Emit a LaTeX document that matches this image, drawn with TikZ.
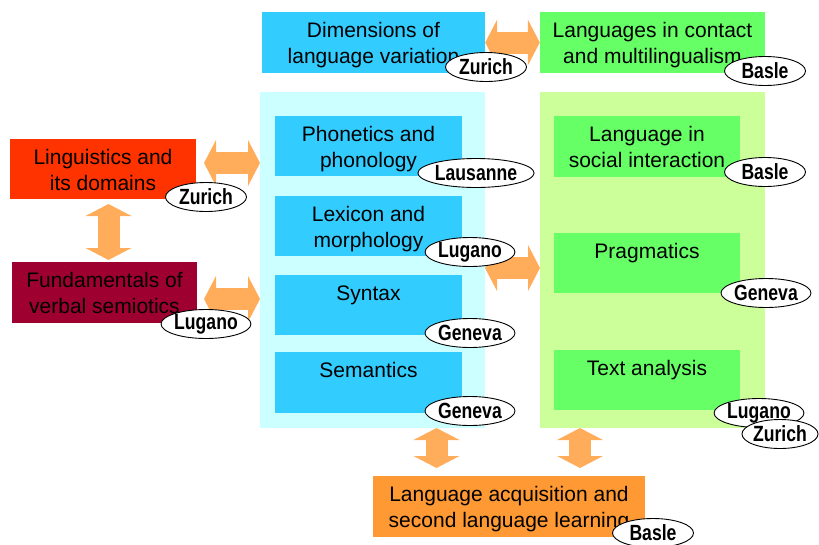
\documentclass[tikz,border=0pt]{standalone}
\usepackage{fontspec}
\setmainfont{Liberation Sans}
\newfontfamily\narrowfont[FakeStretch=0.8]{Liberation Sans}
\usetikzlibrary{shapes.geometric,arrows.meta}
\definecolor{cyanA}{HTML}{33CCFF}
\definecolor{cyanL}{HTML}{CCFFFF}
\definecolor{greenA}{HTML}{66FF66}
\definecolor{greenL}{HTML}{CCFF99}
\definecolor{redA}{HTML}{FF3300}
\definecolor{darkredA}{HTML}{9E0030}
\definecolor{orangeA}{HTML}{FF9933}
\definecolor{arrowC}{HTML}{FFAD5B}
\tikzset{
  box/.style={rectangle, inner sep=0pt, draw=none},
  boxtxt/.style={inner sep=0pt, anchor=base, font=\fontsize{21pt}{26pt}\selectfont},
  tag/.style={ellipse, draw=black, line width=0.9pt, fill=white,
    minimum width=81pt, minimum height=29pt, inner sep=0pt,
    font=\narrowfont\bfseries\fontsize{22pt}{26pt}\selectfont},
  blockarrow/.style={draw=arrowC, line width=22pt,
    {Triangle[length=12pt,width=46pt,line width=0pt]}-{Triangle[length=12pt,width=46pt,line width=0pt]}}
}
\begin{document}
\begin{tikzpicture}[x=1pt,y=-1pt]
\useasboundingbox (0,0) rectangle (819,544);
% panels
\node[box, fill=cyanL, minimum width=225pt, minimum height=336pt] (lpanel) at (372.5,260) {};
\node[box, fill=greenL, minimum width=225pt, minimum height=336pt] (rpanel) at (652.5,260) {};
% top boxes
\node[box, fill=cyanA, minimum width=223pt, minimum height=61pt] (dim) at (373.5,42.5) {};
\node[boxtxt] (dimtxt) at ([yshift=-26pt]dim.north) {\begin{tabular}[t]{@{}c@{}}Dimensions of\\language variation\end{tabular}};
\node[box, fill=greenA, minimum width=225pt, minimum height=61pt] (contact) at (652.5,42.5) {};
\node[boxtxt] (contacttxt) at ([yshift=-26pt]contact.north) {\begin{tabular}[t]{@{}c@{}}Languages in contact\\and multilingualism\end{tabular}};
% left panel boxes
\node[box, fill=cyanA, minimum width=187pt, minimum height=60pt] (phon) at (368.5,146) {};
\node[boxtxt] (phontxt) at ([yshift=-26pt]phon.north) {\begin{tabular}[t]{@{}c@{}}Phonetics and\\phonology\end{tabular}};
\node[box, fill=cyanA, minimum width=187pt, minimum height=60pt] (lex) at (368.5,226) {};
\node[boxtxt] (lextxt) at ([yshift=-26pt]lex.north) {\begin{tabular}[t]{@{}c@{}}Lexicon and\\morphology\end{tabular}};
\node[box, fill=cyanA, minimum width=187pt, minimum height=60pt] (syn) at (368.5,305) {};
\node[boxtxt] (syntxt) at ([yshift=-26pt]syn.north) {Syntax};
\node[box, fill=cyanA, minimum width=187pt, minimum height=61pt] (sem) at (368.5,382.5) {};
\node[boxtxt] (semtxt) at ([yshift=-26pt]sem.north) {Semantics};
% right panel boxes
\node[box, fill=greenA, minimum width=186pt, minimum height=61pt] (social) at (647,146.5) {};
\node[boxtxt] (socialtxt) at ([yshift=-26pt]social.north) {\begin{tabular}[t]{@{}c@{}}Language in\\social interaction\end{tabular}};
\node[box, fill=greenA, minimum width=186pt, minimum height=60pt] (prag) at (647,263) {};
\node[boxtxt] (pragtxt) at ([yshift=-26pt]prag.north) {Pragmatics};
\node[box, fill=greenA, minimum width=186pt, minimum height=60pt] (textan) at (647,380) {};
\node[boxtxt] (textantxt) at ([yshift=-26pt]textan.north) {Text analysis};
% left boxes
\node[box, fill=redA, minimum width=186pt, minimum height=60pt] (ling) at (103,169) {};
\node[boxtxt] (lingtxt) at ([yshift=-26pt]ling.north) {\begin{tabular}[t]{@{}c@{}}Linguistics and\\its domains\end{tabular}};
\node[box, fill=darkredA, minimum width=185pt, minimum height=61pt] (fund) at (104.5,292.5) {};
\node[boxtxt] (fundtxt) at ([yshift=-26pt]fund.north) {\begin{tabular}[t]{@{}c@{}}Fundamentals of\\verbal semiotics\end{tabular}};
% bottom box
\node[box, fill=orangeA, minimum width=272pt, minimum height=61pt] (acq) at (509,506.5) {};
\node[boxtxt] (acqtxt) at ([yshift=-26pt]acq.north) {\begin{tabular}[t]{@{}c@{}}Language acquisition and\\second language learning\end{tabular}};
% arrow end points
\coordinate (a2l) at (204,163); \coordinate (a2r) at (260,163);
\coordinate (a3t) at (108.5,204); \coordinate (a3b) at (108.5,260);
\coordinate (a4l) at (204,299); \coordinate (a4r) at (260,299);
\coordinate (a5l) at (485,268); \coordinate (a5r) at (540,268);
\coordinate (a6t) at (436.5,428); \coordinate (a6b) at (436.5,468);
\coordinate (a7t) at (580,428); \coordinate (a7b) at (580,468);
% arrows
\draw[blockarrow] (dim.east) -- (contact.west);
\draw[blockarrow] (a2l) -- (a2r);
\draw[blockarrow] (a3t) -- (a3b);
\draw[blockarrow] (a4l) -- (a4r);
\draw[blockarrow] (a5l) -- (a5r);
\draw[blockarrow] (a6t) -- (a6b);
\draw[blockarrow] (a7t) -- (a7b);
% location tags
\node[tag] (z1) at (486,67) {Zurich};
\node[tag] (b1) at (765,71) {Basle};
\node[tag] (z2) at (206,197) {Zurich};
\node[tag] (l1) at (206,324) {Lugano};
\node[tag, minimum width=90pt] (la) at (476,173) {Lausanne};
\node[tag] (l2) at (470,252) {Lugano};
\node[tag] (g1) at (470,333) {Geneva};
\node[tag] (g2) at (470,411) {Geneva};
\node[tag] (b2) at (765,172) {Basle};
\node[tag] (g3) at (766,293) {Geneva};
\node[tag] (l3) at (759,413) {Lugano};
\node[tag, minimum width=76pt] (z3) at (780,434) {Zurich};
\node[tag] (b3) at (653,533) {Basle};
\end{tikzpicture}
\end{document}
